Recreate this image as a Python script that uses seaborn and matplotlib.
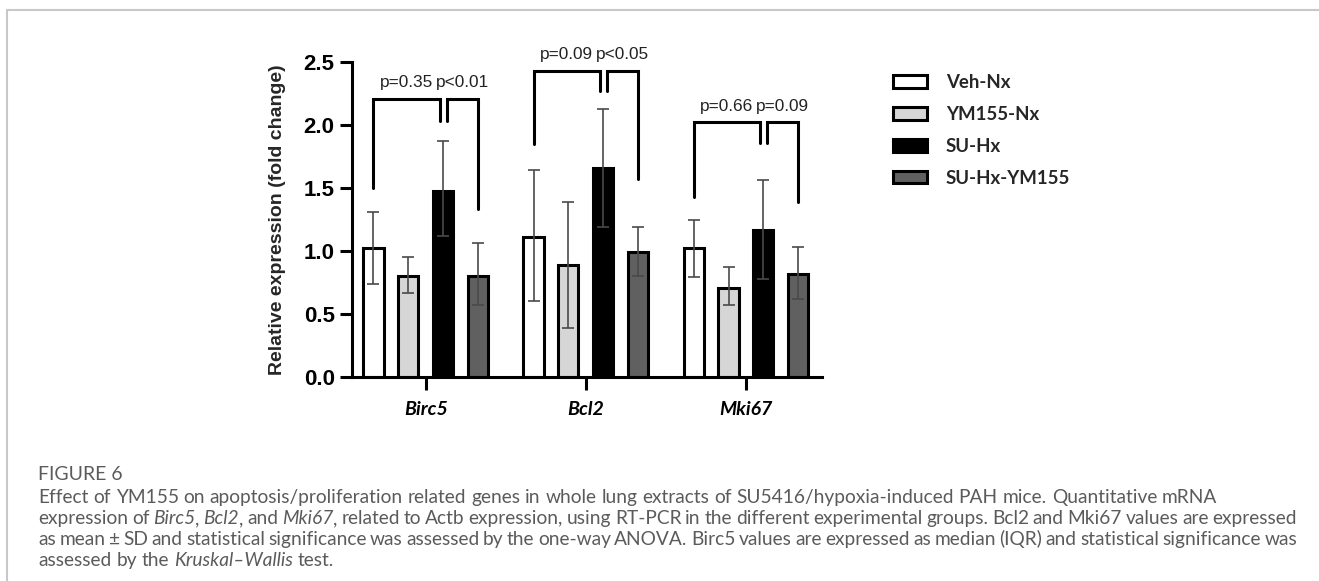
import numpy as np
import pandas as pd
import seaborn as sns
import matplotlib
matplotlib.use("Agg")
import matplotlib.pyplot as plt
from matplotlib.patches import Patch
from matplotlib.lines import Line2D

# ---------------- data ----------------
genes = ["Birc5", "Bcl2", "Mki67"]
groups = ["Veh-Nx", "YM155-Nx", "SU-Hx", "SU-Hx-YM155"]

veh_nx = [1.02, 1.11, 1.02]
ym155_nx = [0.80, 0.89, 0.71]
su_hx = [1.48, 1.66, 1.17]
su_hx_ym155 = [0.80, 0.99, 0.82]

# lower / upper whisker ends
veh_nx_lo = [0.74, 0.60, 0.79]
veh_nx_hi = [1.31, 1.64, 1.25]
ym155_nx_lo = [0.67, 0.39, 0.57]
ym155_nx_hi = [0.95, 1.39, 0.87]
su_hx_lo = [1.12, 1.19, 0.78]
su_hx_hi = [1.87, 2.13, 1.56]
su_hx_ym155_lo = [0.57, 0.80, 0.62]
su_hx_ym155_hi = [1.06, 1.19, 1.03]

# significance brackets (y levels in data units) and labels
bracket_top = [2.21, 2.43, 2.02]
bracket_left_bottom = [1.50, 1.85, 1.43]
bracket_mid_bottom = [2.03, 2.27, 1.86]
bracket_right_bottom = [1.33, 1.57, 1.39]
p_left = ["p=0.35", "p=0.09", "p=0.66"]
p_right = ["p<0.01", "p<0.05", "p=0.09"]

yticks = [0.0, 0.5, 1.0, 1.5, 2.0, 2.5]
ylabel = "Relative expression (fold change)"

caption_title = "FIGURE 6"
caption_lines = [
    [("Effect of YM155 on apoptosis/proliferation related genes in whole lung extracts of SU5416/hypoxia-induced PAH mice. Quantitative mRNA", False)],
    [("expression of ", False), ("Birc5", True), (", ", False), ("Bcl2", True), (", and ", False), ("Mki67", True),
     (", related to Actb expression, using RT-PCR in the different experimental groups. Bcl2 and Mki67 values are expressed", False)],
    [("as mean \u00b1 SD and statistical significance was assessed by the one-way ANOVA. Birc5 values are expressed as median (IQR) and statistical significance was", False)],
    [("assessed by the ", False), ("Kruskal\u2013Wallis", True), (" test.", False)],
]
caption_justify = [False, True, True, False]

means = [veh_nx, ym155_nx, su_hx, su_hx_ym155]
lows = [veh_nx_lo, ym155_nx_lo, su_hx_lo, su_hx_ym155_lo]
highs = [veh_nx_hi, ym155_nx_hi, su_hx_hi, su_hx_ym155_hi]
colors = ["#ffffff", "#d6d6d6", "#000000", "#606060"]

df = pd.DataFrame({
    "gene": genes * len(groups),
    "group": [g for g in groups for _ in genes],
    "value": [v for m in means for v in m],
})

# ---------------- style ----------------
sns.set_theme(style="ticks")
plt.rcParams["font.family"] = ["Liberation Sans", "DejaVu Sans"]

W, H = 1319, 581
fig = plt.figure(figsize=(W / 100, H / 100), dpi=100)
fig.patch.set_facecolor("white")

ax_l, ax_r, ax_t, ax_b = 352, 822, 62, 377
ax = fig.add_axes([ax_l / W, (H - ax_b) / H, (ax_r - ax_l) / W, (ax_b - ax_t) / H])
ax.set_facecolor("white")

sns.barplot(data=df, x="gene", y="value", hue="group", order=genes, hue_order=groups,
            palette=colors, width=0.87, gap=0.42, edgecolor="black", linewidth=2.2,
            errorbar=None, legend=False, ax=ax, saturation=1)

ax.set_xlim(-0.46, 2.475)
ax.set_ylim(0, 2.5)

bar_conts = list(ax.containers)

# error bars
centers = []
for i, cont in enumerate(bar_conts):
    xc = [p.get_x() + p.get_width() / 2 for p in cont]
    centers.append(xc)
    m = np.array(means[i]); lo = np.array(lows[i]); hi = np.array(highs[i])
    ax.errorbar(xc, m, yerr=[m - lo, hi - m], fmt="none", ecolor="#4a4a4a",
                elinewidth=1.2, capsize=4.2, capthick=1.2, zorder=3)

# brackets
d = 0.022
for j in range(len(genes)):
    xv, xs, xy = centers[0][j], centers[2][j], centers[3][j]
    top = bracket_top[j]
    ax.plot([xv, xv, xs - d, xs - d], [bracket_left_bottom[j], top, top, bracket_mid_bottom[j]],
            color="black", lw=2.2, clip_on=False, solid_joinstyle="miter", zorder=4)
    ax.plot([xs + d, xs + d, xy, xy], [bracket_mid_bottom[j], top, top, bracket_right_bottom[j]],
            color="black", lw=2.2, clip_on=False, solid_joinstyle="miter", zorder=4)
    ax.text((xv + xs - d) / 2, top + 0.07, p_left[j], ha="center", va="bottom",
            fontsize=12.4, color="#222222", family="Liberation Sans")
    ax.text((xs + d + xy) / 2, top + 0.07, p_right[j], ha="center", va="bottom",
            fontsize=12.4, color="#222222", family="Liberation Sans")

# axes styling
for s in ["top", "right"]:
    ax.spines[s].set_visible(False)
for s in ["left", "bottom"]:
    ax.spines[s].set_linewidth(2.2)
    ax.spines[s].set_color("black")
ax.set_yticks(yticks)
ax.set_yticklabels([f"{t:.1f}" for t in yticks], fontsize=16, fontweight="bold",
                   family="Liberation Sans")
ax.tick_params(axis="y", length=8.5, width=2.2, pad=4, colors="black")
ax.tick_params(axis="x", length=9.5, width=2.2, pad=8, colors="black")
ax.set_xticks(range(len(genes)))
ax.set_xticklabels(genes, fontsize=14, fontweight="bold", style="italic", family="Lato")
ax.set_xlabel("")
ax.set_ylabel(ylabel, fontsize=14, fontweight="bold", family="Liberation Sans")
ax.yaxis.set_label_coords((278 - ax_l) / (ax_r - ax_l), 0.5)
ax.yaxis.label.set_va("center")

# legend
handles = [Patch(facecolor=c, edgecolor="black", linewidth=2.2) for c in colors]
fig.legend(handles, groups, loc="upper left", bbox_to_anchor=(893 / W, 1 - 74 / H),
           frameon=False, borderpad=0, borderaxespad=0,
           prop={"family": "Lato", "weight": "bold", "size": 13.4},
           handlelength=1.83, handleheight=0.67, handletextpad=1.0, labelspacing=0.8)

# frame lines
fig.add_artist(Line2D([7 / W, 7 / W], [0, 1 - 10 / H], color="#c8c8c8", lw=1.5))
fig.add_artist(Line2D([7 / W, 1], [1 - 10 / H, 1 - 10 / H], color="#c8c8c8", lw=1.5))

# caption
renderer = fig.canvas.get_renderer()
cap_font = "Lato"
cap_size = 13.8
cap_color = "#5b5b5b"


def text_width(s, italic):
    t = fig.text(0, 0, s, fontsize=cap_size, style="italic" if italic else "normal", family=cap_font)
    w = t.get_window_extent(renderer).width
    t.remove()
    return w


space_w = text_width("a a", False) - text_width("aa", False)


def split_words(pieces):
    words = [[]]
    for txt, it in pieces:
        parts = txt.split(" ")
        for k, part in enumerate(parts):
            if k > 0:
                words.append([])
            if part:
                words[-1].append((part, it))
    return [w for w in words if w]


def rich_line(x_px, y_px, pieces, justify, right_px):
    words = split_words(pieces)
    widths = [sum(text_width(s, it) for s, it in w) for w in words]
    if justify and len(words) > 1:
        gap = (right_px - x_px - sum(widths)) / (len(words) - 1)
    else:
        gap = space_w
    x = x_px
    for w in words:
        for s, it in w:
            t = fig.text(x / W, 1 - y_px / H, s, fontsize=cap_size, color=cap_color,
                         style="italic" if it else "normal", family=cap_font,
                         ha="left", va="baseline")
            x += t.get_window_extent(renderer).width
        x += gap


fig.text(38 / W, 1 - 480 / H, caption_title, fontsize=14, color=cap_color,
         family=cap_font, ha="left", va="baseline")
baselines = [503, 524, 545, 566]
for yb, pieces, just in zip(baselines, caption_lines, caption_justify):
    rich_line(38, yb, pieces, just, 1297)

fig.savefig("out.png", dpi=100, facecolor="white")
